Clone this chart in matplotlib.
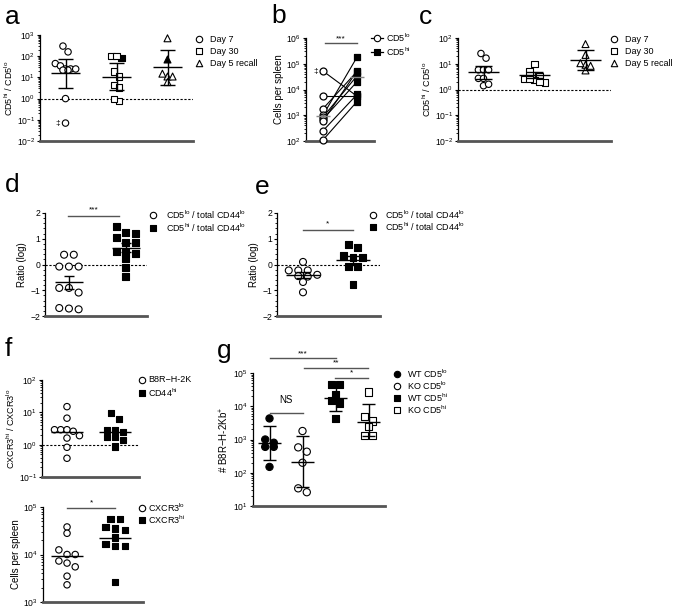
import numpy as np
import matplotlib
matplotlib.use('Agg')
import matplotlib.pyplot as plt
from matplotlib.ticker import LogLocator, NullFormatter, MultipleLocator

plt.rcParams['font.family'] = ['Liberation Sans', 'DejaVu Sans']
plt.rcParams['mathtext.default'] = 'regular'

W, H = 675, 613

# ---- panel a: CD5hi / CD5lo ratio
a_day7 = [300, 160, 45, 35, 25, 25, 22, 22, 25, 1.0, 0.07]
a_day30 = [105, 105, 19, 11, 4.3, 3.3, 0.75, 0.95]
a_day30_mark = [80]
a_day5 = [700, 11, 6, 11, 15]
a_day5_mark = [70]
a_center = [15.5, 10.7, 30]
a_lo = [3.0, 2.5, 4.6]
a_hi = [70, 46, 195]

# ---- panel b: cells per spleen, paired
b_lo = [52000, 5600, 1800, 1000, 850, 700, 600, 250, 110]
b_hi = [5500, 5600, 50000, 180000, 34000, 20000, 52000, 6400, 3400]
b_center = [900, 30000]

# ---- panel c
c_day7 = [25, 16.5, 5.8, 5.8, 5.8, 2.7, 2.7, 1.4, 1.6]
c_day30 = [9.6, 3.7, 5.0, 3.2, 2.4, 2.6, 2.6, 1.9, 2.0]
c_day5 = [58, 22, 9.1, 5.5, 8.3, 10.5]
c_center = [5.0, 3.7, 13.5]
c_lo = [2.6, 2.7, 5.5]
c_hi = [8.3, 5.0, 33]

# ---- panel d / e: ratio (log)
d_lo = [0.38, 0.38, -0.08, -0.08, -0.08, -0.91, -0.91, -1.09, -1.69, -1.74, -1.71]
d_hi = [1.48, 1.26, 1.19, 1.06, 0.87, 0.87, 0.52, 0.48, 0.44, 0.22, -0.13, -0.47]
e_lo = [0.1, -0.23, -0.23, -0.23, -0.47, -0.45, -0.4, -0.68, -1.08]
e_hi = [0.77, 0.65, 0.26, 0.35, 0.26, -0.08, -0.08, -0.78]

# ---- panel f
f1_b8r = [15, 6.6, 2.9, 2.9, 2.9, 2.6, 1.9, 1.6, 0.83, 0.38]
f1_cd44 = [9.5, 6.3, 2.9, 2.9, 2.5, 1.7, 1.7, 1.4, 0.87]
f1_median = [2.45, 2.45]
f2_lo = [38000, 28000, 12500, 10000, 10000, 7300, 6600, 5500, 3500, 2300]
f2_hi = [56000, 56000, 35000, 38000, 33000, 23000, 15000, 15000, 16500, 2600]
f2_median = [9300, 22000]

# ---- panel g
g_labels = ['WT CD5$^{lo}$', 'KO CD5$^{lo}$', 'WT CD5$^{hi}$', 'KO CD5$^{hi}$']
g_wt_lo = [4300, 1000, 600, 600, 800, 150]
g_ko_lo = [1800, 430, 580, 200, 26, 34]
g_wt_hi = [44000, 44000, 22000, 14500, 12500, 4200]
g_ko_hi = [27000, 4800, 3600, 2400, 1300, 1300]
g_center = [800, 215, 18000, 3400]
g_lo = [250, 38, 7000, 1300]
g_hi = [2500, 1300, 47000, 11700]

fig = plt.figure(figsize=(W / 100, H / 100), dpi=100)


def add_ax(l, t, r, b):
    return fig.add_axes([l / W, 1 - b / H, (r - l) / W, (b - t) / H])


def style(ax, log=False):
    ax.spines['top'].set_visible(False)
    ax.spines['right'].set_visible(False)
    ax.spines['bottom'].set_color('#555555')
    ax.spines['bottom'].set_linewidth(2.0)
    ax.spines['left'].set_linewidth(0.9)
    ax.set_xticks([])
    ax.tick_params(axis='y', labelsize=6.2, length=2.5, width=0.8, pad=1)
    ax.tick_params(axis='y', which='minor', length=1.5, width=0.6)
    ax.patch.set_alpha(0)
    if log:
        ax.set_yscale('log')
        ax.yaxis.set_major_locator(LogLocator(base=10, numticks=12))
        ax.yaxis.set_minor_locator(LogLocator(base=10, subs=np.arange(2, 10), numticks=12))
        ax.yaxis.set_minor_formatter(NullFormatter())


def swarm(vals, log, thr, step):
    v = np.log10(vals) if log else np.asarray(vals, float)
    order = np.argsort(-v, kind='stable')
    offs = np.zeros(len(v))
    groups, grp = [], [order[0]]
    for i in order[1:]:
        if v[grp[0]] - v[i] < thr:
            grp.append(i)
        else:
            groups.append(grp)
            grp = [i]
    groups.append(grp)
    for g in groups:
        n = len(g)
        for k, i in enumerate(g):
            offs[i] = (k - (n - 1) / 2) * step
    return offs


def dots(ax, x0, vals, marker, face, log, thr, step, ms=4.6, mark=None):
    vals = list(vals)
    faces = [face] * len(vals)
    if mark:
        # the highlighted (solid) point sits inside the open group
        vals = vals[:1] + list(mark) + vals[1:]
        faces = faces[:1] + ['black'] * len(mark) + faces[1:]
    vals = np.asarray(vals, float)
    offs = swarm(vals, log, thr, step)
    ax.scatter(x0 + offs, vals, s=ms ** 2, marker=marker, facecolors=faces,
               edgecolors='black', linewidths=0.8, zorder=3, clip_on=False)


def bars(ax, x0, c, lo, hi, half, cap, color='black', lw=1.0):
    kw = dict(color=color, lw=lw, zorder=4, solid_capstyle='butt', clip_on=False)
    ax.plot([x0 - half, x0 + half], [c, c], **kw)
    if lo is not None:
        ax.plot([x0, x0], [lo, hi], **kw)
        ax.plot([x0 - cap, x0 + cap], [lo, lo], **kw)
        ax.plot([x0 - cap, x0 + cap], [hi, hi], **kw)


def sig(ax, x1, x2, y, label, ytext, fs=6):
    ax.plot([x1, x2], [y, y], color='#555555', lw=1.0, clip_on=False, zorder=5)
    ax.text((x1 + x2) / 2, ytext, label, ha='center', va='center', fontsize=fs, clip_on=False)


def refline(ax, y):
    ax.axhline(y, color='black', lw=0.8, ls=(0, (2, 1.5)), zorder=1)


# ---------------- panel a
ax = add_ax(40, 35, 193, 141)
style(ax, log=True)
dots(ax, 0, a_day7, 'o', 'white', True, 0.28, 0.1)
dots(ax, 1, a_day30, 's', 'white', True, 0.28, 0.1, mark=a_day30_mark)
dots(ax, 2, a_day5, '^', 'white', True, 0.28, 0.1, ms=5.0, mark=a_day5_mark)
for i in range(3):
    bars(ax, i, a_center[i], a_lo[i], a_hi[i], 0.29, 0.14)
refline(ax, 1)
ax.text(-0.16, a_day7[-1], '‡', fontsize=6, ha='center', va='center')
ax.set_xlim(-0.5, 2.5)
ax.set_ylim(1e-2, 1e3)
ax.set_ylabel('CD5$^{hi}$ / CD5$^{lo}$', fontsize=6.5, labelpad=1.5)

# ---------------- panel b
ax = add_ax(306, 38, 374, 141)
style(ax, log=True)
for lo, hi in zip(b_lo, b_hi):
    ax.plot([0, 1], [lo, hi], color='black', lw=0.8, zorder=2)
ax.scatter(np.zeros(len(b_lo)), b_lo, s=5.0 ** 2, marker='o', facecolors='white',
           edgecolors='black', linewidths=0.9, zorder=3, clip_on=False)
ax.scatter(np.ones(len(b_hi)), b_hi, s=5.0 ** 2, marker='s', facecolors='black',
           edgecolors='black', linewidths=0.9, zorder=3, clip_on=False)
bars(ax, 0, b_center[0], None, None, 0.2, 0, color='#888888')
bars(ax, 1, b_center[1], None, None, 0.2, 0, color='#888888')
sig(ax, 0.06, 1.0, 10 ** 5.8, '***', 10 ** 5.98)
ax.text(-0.22, b_lo[0], '‡', fontsize=6, ha='center', va='center')
ax.set_xlim(-0.5, 1.5)
ax.set_ylim(1e2, 1e6)
ax.set_ylabel('Cells per spleen', fontsize=7, labelpad=1.5)

# ---------------- panel c
ax = add_ax(458, 38, 611, 141)
style(ax, log=True)
dots(ax, 0, c_day7, 'o', 'white', True, 0.23, 0.1)
dots(ax, 1, c_day30, 's', 'white', True, 0.23, 0.1)
dots(ax, 2, c_day5, '^', 'white', True, 0.23, 0.1, ms=5.0)
for i in range(3):
    bars(ax, i, c_center[i], c_lo[i], c_hi[i], 0.31, 0.16)
refline(ax, 1)
ax.set_xlim(-0.5, 2.5)
ax.set_ylim(1e-2, 1e2)
ax.set_ylabel('CD5$^{hi}$ / CD5$^{lo}$', fontsize=6.5, labelpad=1.5)


def ratio_panel(box, lo_vals, hi_vals, xlim, thr, step, half, cap, star, bar_x, bar_y, star_y):
    ax = add_ax(*box)
    style(ax)
    dots(ax, 0, lo_vals, 'o', 'white', False, thr, step, ms=5.0)
    dots(ax, 1, hi_vals, 's', 'black', False, thr, step, ms=5.0)
    for i, v in enumerate([lo_vals, hi_vals]):
        m = np.mean(v)
        se = np.std(v, ddof=1) / np.sqrt(len(v))
        bars(ax, i, m, m - se, m + se, half, cap)
    refline(ax, 0)
    sig(ax, bar_x[0], bar_x[1], bar_y, star, star_y)
    ax.set_xlim(*xlim)
    ax.set_ylim(-2, 2)
    ax.yaxis.set_major_locator(MultipleLocator(1))
    ax.yaxis.set_minor_locator(MultipleLocator(0.2))
    ax.set_ylabel('Ratio (log)', fontsize=7, labelpad=2)
    return ax


ratio_panel((45, 213, 147, 316), d_lo, d_hi, (-0.42, 1.37), 0.3, 0.17, 0.24, 0.09,
            '***', (-0.02, 0.88), 1.88, 2.12)
ratio_panel((277, 213, 380, 316), e_lo, e_hi, (-0.52, 1.54), 0.2, 0.19, 0.34, 0.14,
            '*', (0.0, 1.0), 1.34, 1.56)

# ---------------- panel f (top)
ax = add_ax(42, 380, 139, 477)
style(ax, log=True)
dots(ax, 0, f1_b8r, 'o', 'white', True, 0.19, 0.13)
dots(ax, 1, f1_cd44, 's', 'black', True, 0.19, 0.17)
for i in range(2):
    bars(ax, i, f1_median[i], None, None, 0.34, 0)
refline(ax, 1)
ax.set_xlim(-0.52, 1.5)
ax.set_ylim(1e-1, 1e2)
ax.set_ylabel('CXCR3$^{hi}$ / CXCR3$^{lo}$', fontsize=6.5, labelpad=1.5)

# ---------------- panel f (bottom)
ax = add_ax(43, 507, 143, 602)
style(ax, log=True)
dots(ax, 0, f2_lo, 'o', 'white', True, 0.13, 0.17)
dots(ax, 1, f2_hi, 's', 'black', True, 0.13, 0.2)
for i in range(2):
    bars(ax, i, f2_median[i], None, None, 0.34, 0)
sig(ax, 0.0, 1.0, 10 ** 4.98, '*', 10 ** 5.09)
ax.set_xlim(-0.5, 1.58)
ax.set_ylim(1e3, 1e5)
ax.set_ylabel('Cells per spleen', fontsize=7, labelpad=1.5)

# ---------------- panel g
ax = add_ax(253, 373, 385, 506)
style(ax, log=True)
g_sets = [(g_wt_lo, 'o', 'black'), (g_ko_lo, 'o', 'white'),
          (g_wt_hi, 's', 'black'), (g_ko_hi, 's', 'white')]
for i, (vals, m, f) in enumerate(g_sets):
    dots(ax, i, vals, m, f, True, 0.18, 0.26, ms=5.2)
    bars(ax, i, g_center[i], g_lo[i], g_hi[i], 0.36, 0.2)
sig(ax, 0.0, 1.0, 10 ** 3.8, 'NS', 10 ** 4.2, fs=7)
sig(ax, 0.03, 2.0, 10 ** 5.45, '***', 10 ** 5.58)
sig(ax, 1.06, 2.97, 10 ** 5.15, '**', 10 ** 5.29)
sig(ax, 1.97, 2.97, 10 ** 4.85, '*', 10 ** 4.99)
ax.set_xlim(-0.5, 3.5)
ax.set_ylim(1e1, 1e5)
ax.set_ylabel('# B8R\u2212H-2Kb$^{+}$', fontsize=7, labelpad=1.5)

# ---------------- overlay: panel letters and legends (pixel coords)
ov = fig.add_axes([0, 0, 1, 1])
ov.set_xlim(0, W)
ov.set_ylim(H, 0)
ov.set_axis_off()

for letter, x, y in [('a', 12, 17), ('b', 279, 16), ('c', 425, 17), ('d', 12, 185),
                     ('e', 262, 187), ('f', 8, 349), ('g', 224, 351)]:
    ov.text(x, y, letter, fontsize=19, ha='center', va='center')


def legend(x_mark, x_text, ys, entries, fs=6.5, ms=4.6, line=False):
    for y, (m, f, lab) in zip(ys, entries):
        if line:
            ov.plot([x_mark - 6, x_mark + 6], [y, y], color='black', lw=0.9)
        ov.scatter([x_mark], [y], s=ms ** 2, marker=m, facecolors=f,
                   edgecolors='black', linewidths=0.8, zorder=3)
        ov.text(x_text, y, lab, fontsize=fs, ha='left', va='center')


day_entries = [('o', 'white', 'Day 7'), ('s', 'white', 'Day 30'), ('^', 'white', 'Day 5 recall')]
legend(199, 210, [39, 51, 63], day_entries)
legend(614, 625, [39, 51, 63], day_entries)
legend(377, 386, [38, 52], [('o', 'white', 'CD5$^{lo}$'), ('s', 'black', 'CD5$^{hi}$')], line=True)
ratio_entries = [('o', 'white', 'CD5$^{lo}$ / total CD44$^{lo}$'),
                 ('s', 'black', 'CD5$^{hi}$ / total CD44$^{lo}$')]
legend(153, 166, [215, 228], ratio_entries)
legend(373, 385, [215, 227], ratio_entries)
legend(142, 148, [380, 393], [('o', 'white', 'B8R\u2212H-2K'), ('s', 'black', 'CD44$^{hi}$')])
legend(142, 148, [508, 520], [('o', 'white', 'CXCR3$^{lo}$'), ('s', 'black', 'CXCR3$^{hi}$')])
legend(397, 407, [374, 386, 398, 410],
       [('o', 'black', g_labels[0]), ('o', 'white', g_labels[1]),
        ('s', 'black', g_labels[2]), ('s', 'white', g_labels[3])])

fig.savefig('out.png', dpi=100)
